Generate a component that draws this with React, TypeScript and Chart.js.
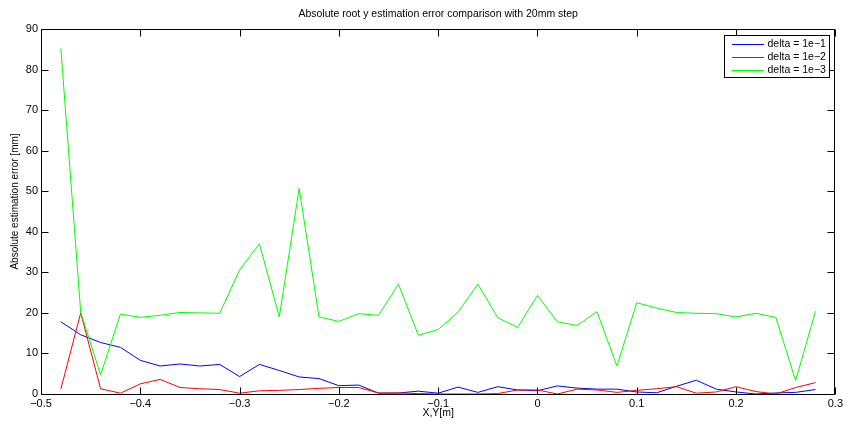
import { useEffect, useRef } from 'react';
import { Chart, registerables } from 'chart.js';

Chart.register(...registerables);

const chartTitle = 'Absolute root y estimation error comparison with 20mm step';
const xAxisLabel = 'X,Y[m]';
const yAxisLabel = 'Absolute estimation error [mm]';

const xPositions = [
  -0.48, -0.46, -0.44, -0.42, -0.4, -0.38, -0.36, -0.34, -0.32, -0.3,
  -0.28, -0.26, -0.24, -0.22, -0.2, -0.18, -0.16, -0.14, -0.12, -0.1,
  -0.08, -0.06, -0.04, -0.02, 0, 0.02, 0.04, 0.06, 0.08, 0.1,
  0.12, 0.14, 0.16, 0.18, 0.2, 0.22, 0.24, 0.26, 0.28,
];

const seriesLabels = ['delta = 1e\u22121', 'delta = 1e\u22122', 'delta = 1e\u22123'];
const seriesColors = ['#0000ff', '#ff0000', '#00ff00'];

const errDelta1 = [
  17.8, 14.6, 12.7, 11.5, 8.3, 6.9, 7.4, 6.9, 7.3, 4.3,
  7.3, 5.8, 4.2, 3.8, 2.05, 2.2, 0.2, 0.25, 0.7, 0.2,
  1.7, 0.4, 1.8, 1.0, 0.8, 2.0, 1.45, 1.2, 1.2, 0.5,
  0.3, 1.9, 3.4, 1.2, 0.5, 0.0, 0.25, 0.4, 1.1,
];

const errDelta2 = [
  1.2, 20.0, 1.3, 0.2, 2.5, 3.6, 1.6, 1.3, 1.1, 0.2,
  0.8, 0.9, 1.1, 1.4, 1.6, 1.6, 0.25, 0.25, 0.1, 0.0,
  0.0, 0.0, 0.1, 1.0, 1.0, 0.0, 1.2, 1.0, 0.4, 0.9,
  1.3, 1.8, 0.2, 0.5, 1.8, 0.6, 0.0, 1.6, 2.8,
];

const errDelta3 = [
  85.2, 20.2, 4.7, 19.7, 18.9, 19.4, 20.1, 20.0, 19.9, 30.6,
  37.0, 19.0, 50.7, 19.0, 17.9, 19.8, 19.4, 27.1, 14.5, 15.9,
  20.2, 27.1, 18.8, 16.4, 24.3, 17.8, 16.9, 20.3, 6.9, 22.5,
  21.2, 20.1, 19.9, 19.8, 19.0, 19.9, 18.9, 3.3, 20.4,
];

const xTicks = [-0.5, -0.4, -0.3, -0.2, -0.1, 0, 0.1, 0.2, 0.3];
const yTicks = [0, 10, 20, 30, 40, 50, 60, 70, 80, 90];

const FONT = '"Liberation Sans", Arial, Helvetica, sans-serif';

function fmtX(v: number): string {
  const r = Math.round(v * 10) / 10;
  if (r === 0) return '0';
  return (r < 0 ? '\u2212' : '') + Math.abs(r).toFixed(1);
}

const matlabBox = {
  id: 'matlabBox',
  afterDatasetsDraw(chart: any) {
    const { ctx, chartArea, scales } = chart;
    const L = Math.round(chartArea.left) + 0.5;
    const R = Math.round(chartArea.right) - 0.5;
    const T = Math.round(chartArea.top) + 0.5;
    const B = Math.round(chartArea.bottom) + 0.5;
    const tl = 7;
    ctx.save();
    ctx.strokeStyle = '#000';
    ctx.lineWidth = 1;
    ctx.beginPath();
    ctx.rect(L, T, R - L, B - T);
    ctx.stroke();
    ctx.beginPath();
    for (const v of xTicks) {
      const px = Math.round(scales.x.getPixelForValue(v)) + 0.5;
      ctx.moveTo(px, B);
      ctx.lineTo(px, B - tl);
      ctx.moveTo(px, T);
      ctx.lineTo(px, T + tl);
    }
    for (const v of yTicks) {
      const py = Math.round(scales.y.getPixelForValue(v)) + 0.5;
      ctx.moveTo(L, py);
      ctx.lineTo(L + tl, py);
      ctx.moveTo(R, py);
      ctx.lineTo(R - tl, py);
    }
    ctx.stroke();

    // y axis label (MATLAB places it slightly above the axes centre)
    ctx.save();
    ctx.translate(15, (chartArea.top + chartArea.bottom) / 2 - 10);
    ctx.rotate(-Math.PI / 2);
    ctx.font = '10px ' + FONT;
    ctx.fillStyle = '#000';
    ctx.textAlign = 'center';
    ctx.textBaseline = 'middle';
    ctx.fillText(yAxisLabel, 0, 0);
    ctx.restore();

    // legend
    const bw = 105;
    const bh = 42;
    const bx = Math.round(chartArea.right) - 6 - bw + 0.5;
    const by = Math.round(chartArea.top) + 6 + 0.5;
    ctx.fillStyle = '#fff';
    ctx.fillRect(bx, by, bw, bh);
    ctx.strokeStyle = '#000';
    ctx.lineWidth = 1;
    ctx.strokeRect(bx, by, bw, bh);
    ctx.font = '10.5px ' + FONT;
    ctx.textAlign = 'left';
    ctx.textBaseline = 'middle';
    for (let i = 0; i < seriesLabels.length; i++) {
      const yy = Math.round(by + 8 + i * 13);
      ctx.fillStyle = seriesColors[i];
      ctx.fillRect(Math.round(bx) + 7, yy, 32, 1);
      ctx.fillStyle = '#000';
      ctx.fillText(seriesLabels[i], bx + 43, yy + 0.5);
    }
    ctx.restore();
  },
};

export default function App() {
  const ref = useRef<HTMLCanvasElement>(null);

  useEffect(() => {
    const series = [errDelta1, errDelta2, errDelta3];
    const chart = new Chart(ref.current as HTMLCanvasElement, {
      type: 'line',
      data: {
        datasets: series.map((vals, i) => ({
          label: seriesLabels[i],
          data: xPositions.map((x, j) => ({ x, y: vals[j] })),
          borderColor: seriesColors[i],
          backgroundColor: seriesColors[i],
          borderWidth: 1,
          pointRadius: 0,
          tension: 0,
          fill: false,
          order: 2 - i,
        })),
      },
      options: {
        animation: false,
        responsive: false,
        maintainAspectRatio: false,
        devicePixelRatio: 1,
        layout: { padding: { top: 0, right: 10, bottom: 0, left: 0 } },
        plugins: {
          legend: { display: false },
          tooltip: { enabled: false },
          title: {
            display: true,
            fullSize: false,
            text: chartTitle,
            color: '#000',
            font: { family: FONT, size: 10.5, weight: 'normal', lineHeight: 1.2 },
            padding: { top: 8, bottom: 8.4 },
          },
        },
        scales: {
          x: {
            type: 'linear',
            min: -0.5,
            max: 0.3,
            afterBuildTicks: (s: any) => {
              s.ticks = xTicks.map((v) => ({ value: v }));
            },
            afterFit: (s: any) => {
              s.height = 31;
            },
            grid: { display: false, drawTicks: false },
            border: { display: false },
            ticks: {
              autoSkip: false,
              maxRotation: 0,
              padding: 3,
              color: '#000',
              font: { family: FONT, size: 11 },
              callback: (v: any) => fmtX(Number(v)),
            },
            title: {
              display: true,
              text: xAxisLabel,
              color: '#000',
              font: { family: FONT, size: 10.5, lineHeight: 1.2 },
              padding: { top: 0, bottom: 6 },
            },
          },
          y: {
            type: 'linear',
            min: 0,
            max: 90,
            afterBuildTicks: (s: any) => {
              s.ticks = yTicks.map((v) => ({ value: v }));
            },
            afterFit: (s: any) => {
              s.width = 41;
            },
            grid: { display: false, drawTicks: false },
            border: { display: false },
            ticks: {
              autoSkip: false,
              padding: 3,
              color: '#000',
              font: { family: FONT, size: 11 },
              callback: (v: any) => String(Math.round(Number(v))),
            },
            title: { display: false },
          },
        },
      },
      plugins: [matlabBox],
    });
    return () => chart.destroy();
  }, []);

  return (
    <div style={{ position: 'absolute', left: 0, top: 0, width: 846, height: 425, background: '#fff' }}>
      <canvas ref={ref} width={846} height={425} style={{ display: 'block', width: 846, height: 425 }} />
    </div>
  );
}
